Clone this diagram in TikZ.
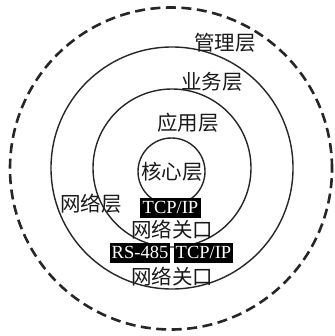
\documentclass[tikz,border=0pt]{standalone}
\usepackage{fontspec}
\setmainfont{Liberation Serif}
\newfontfamily\cjk{Noto Sans CJK SC}
\begin{document}
\begin{tikzpicture}[x=1pt,y=-1pt,
  ring/.style={circle,draw=black!85,line width=1.4pt,inner sep=0pt,fill=none},
  dashring/.style={circle,draw=black!85,line width=2.6pt,dash pattern=on 10pt off 5.5pt,inner sep=0pt},
  lbl/.style={font=\cjk\fontsize{20.5}{20.5}\selectfont,inner sep=0pt,text=black!90},
  proto/.style={fill=black,text=white,font=\fontsize{18.5}{18.5}\selectfont,inner sep=0pt,minimum height=20pt,text depth=0pt}]
\useasboundingbox (0,0) rectangle (334,336);
\node[dashring,minimum size=322pt] (mgmt) at (171,168.5) {};
\node[ring,minimum size=242pt] (biz) at (172,168) {};
\node[ring,minimum size=158pt] (app) at (172,168) {};
\node[ring,minimum size=67pt] (core) at (171.5,171.5) {};
\node[lbl] (tmgmt) at (225,43) {管理层};
\node[lbl] (tbiz) at (212,82) {业务层};
\node[lbl] (tapp) at (188,123) {应用层};
\node[lbl] (tcore) at (172,172) {核心层};
\node[lbl] (tnet) at (91,204) {网络层};
\node[proto,minimum width=61pt] (tcp1) at (170.5,207.5) {TCP/IP};
\node[lbl] (gw1) at (172,230) {网络关口};
\node[proto,minimum width=60pt] (rs) at (140,252.5) {RS-485};
\node[proto,minimum width=59pt] (tcp2) at (203.5,252.5) {TCP/IP};
\node[lbl] (gw2) at (172,277) {网络关口};
\end{tikzpicture}
\end{document}
